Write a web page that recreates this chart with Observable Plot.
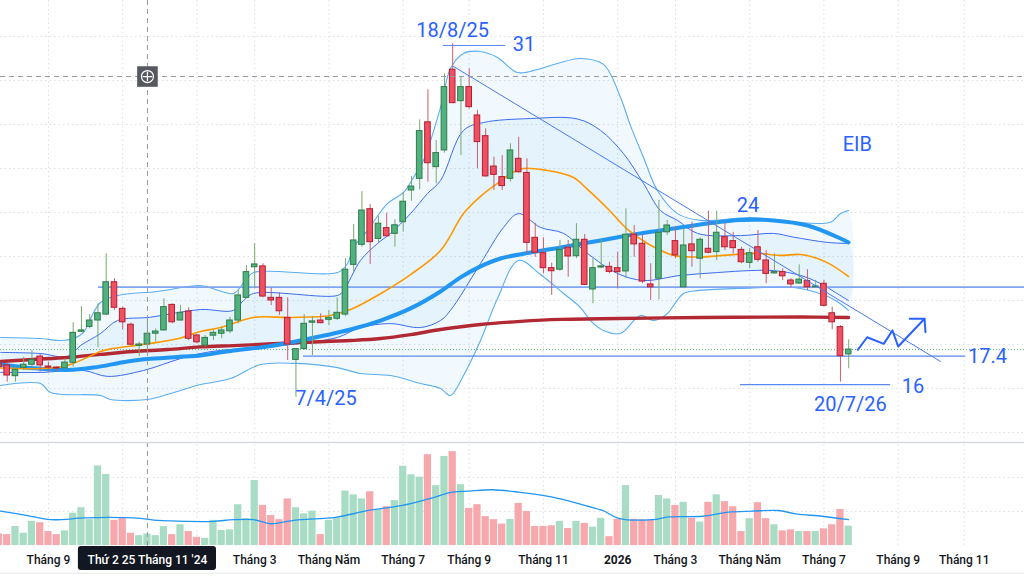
<!DOCTYPE html>
<html>
<head>
<meta charset="utf-8">
<script src="https://cdn.jsdelivr.net/npm/d3@7"></script>
<script src="https://cdn.jsdelivr.net/npm/@observablehq/plot@0.6"></script>
<style>
html,body{margin:0;padding:0;background:#fff;}
#chart{width:1024px;height:576px;overflow:hidden;position:relative;background:#fff;}
#chart svg{display:block;}
</style>
</head>
<body>
<div id="chart"></div>
<script>
// ---------- DATA (weekly bars, index -1 .. 102) ----------
const firstBarMonday = "2024-07-22";             // bar index -1
const skippedWeeks = ["2025-01-27", "2026-02-16"]; // Tet holiday weeks without a bar

const open = [17.12,17.05,16.56,16.94,17.08,17.45,17.00,16.95,16.92,17.17,
 18.58,18.80,19.09,19.36,20.83,19.62,18.90,17.94,18.00,18.49,
 18.64,19.80,19.09,19.50,18.41,17.95,18.40,18.49,18.60,19.09,
 20.12,21.51,21.55,20.12,20.12,19.21,17.30,17.80,18.99,19.09,
 19.12,19.17,19.36,21.62,22.53,24.15,22.80,23.29,23.03,23.56,
 25.00,25.53,28.10,26.06,26.82,30.49,29.06,29.70,28.41,27.47,
 26.09,25.61,25.53,26.44,25.80,22.85,22.15,21.47,21.40,22.40,
 22.01,22.76,20.50,21.50,21.53,21.47,21.32,22.99,22.58,20.73,
 20.99,23.10,22.70,20.60,22.55,21.90,22.35,22.20,22.88,22.70,
 22.30,21.71,22.42,21.82,21.23,21.29,20.91,20.77,20.88,20.60,
 20.76,19.42,18.79,17.55];
const high = [17.23,17.12,16.97,17.42,17.73,17.55,17.20,16.97,17.35,18.99,
 19.73,19.36,19.85,22.12,20.99,19.70,18.97,18.10,19.12,18.71,
 20.08,19.85,19.77,19.67,18.44,18.41,18.64,18.79,19.24,20.45,
 21.59,22.58,21.67,20.56,20.35,20.12,17.82,19.36,19.27,19.40,
 19.55,20.12,21.90,23.45,24.95,24.36,23.82,23.97,23.67,24.90,
 25.64,28.21,29.58,27.27,30.30,31.67,30.15,30.53,28.64,27.80,
 26.51,26.59,27.12,27.42,26.44,23.51,22.85,21.70,22.73,22.73,
 23.49,23.00,21.90,22.76,21.74,22.20,24.17,23.41,23.00,21.67,
 24.55,23.64,23.33,23.26,23.56,22.85,24.06,24.06,23.53,23.10,
 22.42,22.35,23.18,22.27,22.12,21.44,20.99,21.62,21.40,20.91,
 20.91,19.70,18.86,18.21];
const low = [16.82,16.29,16.29,16.82,16.97,16.74,16.74,16.74,16.85,16.97,
 18.56,18.71,17.85,19.32,19.55,18.67,17.95,17.45,17.70,18.10,
 18.60,18.94,19.06,18.18,18.03,17.88,18.18,18.26,18.49,18.94,
 20.08,20.53,20.12,19.77,19.32,17.27,15.60,17.73,17.50,18.94,
 18.86,19.09,19.27,21.29,22.42,21.64,22.60,22.88,22.42,23.10,
 24.51,25.03,25.38,25.30,26.70,28.95,26.59,28.71,25.99,25.61,
 25.00,25.00,25.38,25.79,22.12,21.97,21.21,20.23,21.33,21.06,
 21.90,20.68,19.85,21.44,21.21,20.53,20.99,21.97,20.76,20.00,
 20.03,22.95,21.90,20.58,21.51,20.99,22.12,21.82,22.27,22.12,
 21.67,21.44,21.74,20.76,21.21,20.91,20.58,20.73,20.45,20.58,
 19.70,18.67,16.29,16.90];
const close = [16.97,16.59,16.85,17.08,17.30,17.05,16.95,16.91,17.18,18.53,
 18.64,19.09,19.42,20.83,19.67,19.01,17.99,18.00,18.49,18.59,
 19.70,19.01,19.44,18.26,18.10,18.30,18.53,18.64,19.09,20.23,
 21.29,21.64,20.18,20.00,19.51,18.00,17.79,18.94,19.05,18.97,
 19.21,19.44,21.40,22.73,24.09,22.65,23.49,22.92,23.42,24.49,
 25.18,27.70,26.24,26.70,29.70,28.97,29.70,28.79,27.20,25.64,
 25.71,25.20,26.82,25.83,22.62,22.17,21.47,21.33,22.30,22.00,
 22.76,20.71,21.47,21.55,21.30,21.29,22.99,22.55,20.86,20.60,
 23.08,23.41,22.05,22.50,22.24,22.76,22.17,23.08,22.42,22.38,
 21.74,22.15,21.85,21.21,21.29,21.10,20.73,20.95,20.60,20.64,
 19.76,19.01,17.47,17.77];
const volume = [3.4,3.2,5.6,3.6,7.1,6.7,4.1,3.2,4.3,9.5,
 11.1,7.6,23.4,20.9,7.4,8.1,3.6,2.9,3.4,2.9,
 5.6,3.2,6.1,4.1,2.4,2.1,7.4,4.4,4.6,12.0,
 7.9,19.1,11.8,8.8,7.6,13.7,11.1,9.3,10.1,3.2,
 7.4,8.0,16.0,14.9,13.7,15.8,10.5,11.4,13.2,23.3,
 20.8,20.1,26.7,17.6,26.2,27.6,17.9,10.9,12.0,8.5,
 7.6,6.3,7.7,12.4,10.0,5.6,5.6,5.8,7.1,5.0,
 7.1,6.5,5.4,8.0,2.6,7.7,17.6,7.7,7.6,7.6,
 14.7,13.7,11.8,12.7,8.0,6.9,12.7,14.9,12.9,11.4,
 4.1,7.9,12.6,7.9,6.1,4.3,4.6,4.1,4.1,4.1,
 4.9,6.1,10.6,5.7];

// Indicators (bar position -> value)
const ma20At = [-0.81,4.04,7.31,11.31,12.52,14.58,17.37,20.64,23.43,25.85,29.86,34.34,39.19,41.61,44.88,48.89,52.52,55.31,57.37,59.43,62.22,65.49,68.64,70.34,72.77,75.19,77.61,80.77,84.04,86.83,90.95,93.73,96.16,98.22,99.8,101.98];
const ma20 = [16.93,16.91,17.05,17.68,17.80,17.91,18.05,18.26,18.59,18.77,19.23,19.23,19.32,19.59,20.23,21.18,22.27,23.95,24.73,25.32,25.98,25.91,25.59,25.05,24.18,23.23,22.59,22.05,21.98,22.05,22.14,22.05,22.09,21.91,21.64,21.09];
const ma50At = [-0.81,3.19,7.31,10.46,14.58,17.37,21.37,23.43,27.43,31.55,35.55,41.61,45.25,48.89,52.52,54.95,57.37,59.79,63.43,67.07,71.92,76.77,80.77,84.89,88.89,92.89,97.01,101.01,101.98];
const ma50 = [17.09,16.92,16.84,16.95,17.23,17.35,17.45,17.5,17.73,17.91,18.18,18.68,19.09,19.64,20.41,21.05,21.55,21.91,22.18,22.41,22.73,23.05,23.27,23.5,23.66,23.64,23.41,22.82,22.64];
const ma200At = [-0.81,3.19,7.31,11.31,15.31,19.43,23.43,27.43,31.55,35.55,41.61,45.25,48.89,52.52,57.37,62.22,67.07,71.92,84.04,96.16,101.98];
const ma200 = [17.23,17.32,17.41,17.55,17.68,17.77,17.89,17.95,18.02,18.09,18.18,18.27,18.45,18.68,18.91,19.05,19.14,19.17,19.23,19.25,19.23];
const outerUpAt = [-0.81,4.04,6.46,8.04,9.25,10.1,11.31,13.37,18.22,23.43,25.25,27.43,28.88,29.86,40.04,41.25,41.98,43.67,46.1,48.04,49.25,50.45,52.52,53.73,55.31,57.37,59.43,61.86,64.28,66.7,69.49,72.28,74.34,75.55,77.13,78.82,81.25,84.04,90.1,95.31,99.8,101.01,101.98];
const outerUp = [18.32,18.27,18.18,18.27,18.55,19.18,19.91,20.23,20.41,20.68,20.5,20.32,20.91,21.27,21.27,21.68,22.41,23.18,24.41,24.91,25.59,26.36,28.77,30.55,31.23,31.32,31.05,30.36,30.5,30.77,31.0,30.73,29.23,27.95,26.5,25.0,23.95,23.64,23.77,23.56,23.56,23.95,24.09];
const innerUpAt = [-0.81,4.04,7.31,8.88,11.31,13.37,17.37,23.43,27.43,28.64,29.86,40.04,40.77,42.82,44.88,46.46,48.89,50.94,52.52,55.31,57.74,63.43,69.13,71.92,74.7,77.13,79.19,81.25,83.67,88.89,92.89,95.31,99.43,101.98];
const innerUp = [17.64,17.59,17.45,17.95,18.5,19.09,19.24,19.59,19.55,20.0,20.32,20.23,20.45,21.82,22.59,23.05,23.95,24.86,25.45,27.73,28.09,28.27,28.25,27.73,26.68,25.32,24.09,23.64,23.05,22.95,23.05,22.88,22.64,22.59];
const innerLowAt = [-0.81,4.04,9.25,12.16,16.52,21.0,23.43,25.85,30.7,35.55,40.04,42.82,46.46,50.1,52.52,53.73,57.37,60.16,61.98,64.64,67.43,70.34,73.98,77.13,81.61,86.1,90.1,92.89,96.16,98.58,100.4,101.98];
const innerLow = [16.73,16.73,16.82,16.55,16.82,17.36,17.59,17.73,17.86,18.05,18.32,18.77,18.95,18.77,19.09,19.55,21.68,23.32,23.95,23.32,23.05,22.14,21.23,20.91,21.14,21.27,21.36,21.36,21.14,20.77,20.36,20.0];
const outerLowAt = [-0.81,4.04,5.25,11.31,12.52,17.0,19.79,23.43,27.07,30.7,34.95,40.04,42.82,46.46,50.1,52.52,53.73,55.31,57.37,59.43,61.98,64.64,67.43,69.49,70.7,72.28,74.34,76.77,78.34,80.04,80.77,81.98,83.67,88.89,95.31,98.1,100.4,101.98];
const outerLow = [16.14,16.23,15.82,15.68,15.5,15.5,15.77,16.18,16.45,17.09,17.14,16.95,16.68,16.59,16.23,16.0,15.68,16.59,18.18,20.09,21.82,21.18,20.32,19.68,19.09,18.64,18.5,19.32,19.09,19.41,19.77,20.32,20.45,20.55,20.59,20.36,20.0,19.55];
const volMaAt = [-0.81,2.46,5.25,9.25,12.16,16.16,18.22,21.85,25.0,27.43,29.85,31.92,33.49,35.55,39.79,43.79,47.91,51.07,53.98,55.92,58.82,61.98,66.1,69.25,72.16,74.1,78.22,80.16,84.28,87.43,90.34,93.49,95.55,98.82,101.98];
const volMa = [10.1,8.8,7.6,8.1,8.3,8.0,7.4,7.1,7.1,7.6,7.6,6.4,6.9,7.6,8.3,10.3,11.8,13.7,15.7,16.0,16.4,15.7,14.2,12.3,10.3,8.0,7.6,8.4,8.6,9.8,10.1,10.3,9.3,8.6,7.6];

// Drawings
const levelPrice = [20.61, 17.47, 16.18, 31.59];
const levelFrom  = [11.07, 35.92, 88.88, 52.88];
const levelTo    = [123.31, 116.2, 107.07, 60.4];
const trendAt = [54.1, 113.13];
const trendV  = [30.64, 17.23];
const zigAt = [103.1, 104.24, 106.25, 107.3, 108.0, 111.19];
const zigV  = [17.76, 18.33, 18.03, 18.64, 17.91, 19.17];
const headAt = [109.4, 111.19, 111.31];
const headV  = [19.17, 19.17, 18.56];
const labelText = ["18/8/25", "31", "EIB", "24", "17.4", "16", "20/7/26", "7/4/25"];
const labelAt   = [53.98, 62.64, 103.05, 89.8, 118.83, 109.8, 102.2, 38.64];
const labelV    = [32.27, 31.64, 27.09, 24.32, 17.45, 16.09, 15.27, 15.55];
const priceGrid = [14, 16, 18, 20, 22, 24, 26, 28, 30, 32];
const volumeGrid = [10, 20];
const crossDate = "2024-11-25";
const crossPrice = 30.18;
const crossLabel = "Thứ 2 25 Tháng 11 '24";
const crossLabelHalfBars = 8.37;   // half width of the crosshair date box, in bars

// ---------- BUILD ----------
const dates = [];
{
  let t = Date.parse(firstBarMonday + "T00:00:00Z");
  while (dates.length < 135) {
    const iso = new Date(t).toISOString().slice(0, 10);
    if (!skippedWeeks.includes(iso)) dates.push(new Date(t));
    t += 7 * 864e5;
  }
}
const idxOf = (j) => j - 1;
const bars = open.map((o, j) => ({
  i: idxOf(j), o, h: high[j], l: low[j], c: close[j], v: volume[j], up: close[j] >= o
}));
const xDomain = [-0.812, 123.31];
const ticks = [];
for (let j = 1; j < dates.length; j++) {
  const m = dates[j].getUTCMonth(), pm = dates[j - 1].getUTCMonth();
  if (m !== pm && m % 2 === 0 && idxOf(j) <= xDomain[1]) {
    ticks.push({
      i: idxOf(j),
      label: m === 0 ? String(dates[j].getUTCFullYear()) : (m === 4 ? "Tháng Năm" : "Tháng " + (m + 1)),
      year: m === 0
    });
  }
}
const crossIndex = idxOf(dates.findIndex(d => d.toISOString().slice(0, 10) === crossDate));
// tick labels hidden behind the crosshair date box (as in TradingView)
const visibleTicks = ticks.filter(t => Math.abs(t.i - crossIndex) > crossLabelHalfBars + 2);
const pts = (at, vals) => at.map((a, k) => ({i: a, v: vals[k]}));
const poly = (aAt, a, bAt, b) => pts(aAt, a).concat(pts(bAt, b).reverse());

const GRID = "#dcdfe6";
const upFill = "#52b27f", upStroke = "#2f7c48", upWick = "#78a86c";
const dnFill = "#ef5062", dnStroke = "#b51e30", dnWick = "#c7606c";
const BLUE_TXT = "#2962ff";

const price = Plot.plot({
  width: 1024, height: 441, margin: 0,
  x: {domain: xDomain, axis: null},
  y: {domain: [13.591, 33.636], axis: null},
  style: {fontFamily: "Roboto, 'Noto Sans', sans-serif", background: "white"},
  marks: [
    Plot.ruleY(priceGrid, {stroke: GRID, strokeDasharray: "1.5,3"}),
    Plot.ruleX(ticks, {x: "i", stroke: GRID, strokeDasharray: "1.5,3"}),
    Plot.line(poly(outerUpAt, outerUp, outerLowAt, outerLow), {x: "i", y: "v", fill: "rgba(33,150,243,0.06)", stroke: "none", curve: "catmull-rom"}),
    Plot.line(poly(innerUpAt, innerUp, innerLowAt, innerLow), {x: "i", y: "v", fill: "rgba(33,150,243,0.06)", stroke: "none", curve: "catmull-rom"}),
    Plot.line(pts(outerUpAt, outerUp), {x: "i", y: "v", stroke: "#5aaef2", strokeWidth: 1.1, curve: "catmull-rom"}),
    Plot.line(pts(outerLowAt, outerLow), {x: "i", y: "v", stroke: "#5aaef2", strokeWidth: 1.1, curve: "catmull-rom"}),
    Plot.line(pts(innerUpAt, innerUp), {x: "i", y: "v", stroke: "#3b6cf0", strokeWidth: 1, curve: "catmull-rom"}),
    Plot.line(pts(innerLowAt, innerLow), {x: "i", y: "v", stroke: "#3b6cf0", strokeWidth: 1, curve: "catmull-rom"}),
    Plot.ruleY(levelPrice.map((p, k) => ({p, a: levelFrom[k], b: levelTo[k], k})), {
      y: "p", x1: "a", x2: "b",
      stroke: d => d.k === 0 ? "#7ea4f6" : "#5c88f1",
      strokeWidth: d => d.k === 0 ? 1.6 : 1.2
    }),
    Plot.ruleY([close[close.length - 1]], {stroke: "#43a047", strokeDasharray: "1,2", strokeOpacity: 0.8}),
    Plot.line(pts(ma200At, ma200), {x: "i", y: "v", stroke: "#b22833", strokeWidth: 3.4, curve: "catmull-rom"}),
    Plot.line(pts(ma50At, ma50), {x: "i", y: "v", stroke: "#2196f3", strokeWidth: 4, curve: "catmull-rom"}),
    Plot.line(pts(ma20At, ma20), {x: "i", y: "v", stroke: "#ff9800", strokeWidth: 1.6, curve: "catmull-rom"}),
    Plot.ruleX(bars, {x: "i", y1: "l", y2: "h", stroke: d => d.up ? upWick : dnWick, strokeWidth: 1}),
    Plot.rect(bars, {
      x1: d => d.i - 0.34, x2: d => d.i + 0.34,
      y1: d => Math.min(d.o, d.c), y2: d => Math.max(d.o, d.c),
      fill: d => d.up ? upFill : dnFill, stroke: d => d.up ? upStroke : dnStroke, strokeWidth: 1
    }),
    Plot.line(pts(trendAt, trendV), {x: "i", y: "v", stroke: "#4a78f0", strokeWidth: 1}),
    Plot.line(pts(zigAt, zigV), {x: "i", y: "v", stroke: "#2962ff", strokeWidth: 2}),
    Plot.line(pts(headAt, headV), {x: "i", y: "v", stroke: "#2962ff", strokeWidth: 2}),
    Plot.text(labelText.map((t, k) => ({t, i: labelAt[k], v: labelV[k]})), {
      x: "i", y: "v", text: "t", fill: BLUE_TXT, fontSize: 20
    }),
    Plot.ruleY([crossPrice], {stroke: "#9598a1", strokeDasharray: "5,4"}),
    Plot.ruleX([crossIndex], {stroke: "#9598a1", strokeDasharray: "5,4"}),
    Plot.dot([{i: crossIndex, v: crossPrice}], {x: "i", y: "v", symbol: "square", r: 11.6, fill: "#55585f", stroke: "none"}),
    Plot.dot([{i: crossIndex, v: crossPrice}], {x: "i", y: "v", r: 6, fill: "none", stroke: "white", strokeWidth: 1.2}),
    Plot.dot([{i: crossIndex, v: crossPrice}], {x: "i", y: "v", symbol: "plus", r: 3.2, stroke: "white", strokeWidth: 1.2})
  ]
});

const volTop = 30.588;
const vol = Plot.plot({
  width: 1024, height: 135, margin: 0,
  x: {domain: xDomain, axis: null},
  y: {domain: [-9.118, volTop], axis: null},
  style: {fontFamily: "Roboto, 'Noto Sans', sans-serif", background: "white"},
  marks: [
    Plot.ruleY(volumeGrid, {stroke: GRID, strokeDasharray: "1.5,3"}),
    Plot.ruleX(ticks, {x: "i", y1: 0, y2: volTop, stroke: GRID, strokeDasharray: "1.5,3"}),
    Plot.rectY(bars, {x1: d => d.i - 0.44, x2: d => d.i + 0.44, y: "v", fill: d => d.up ? "#a9dcc4" : "#f6a8ad"}),
    Plot.line(pts(volMaAt, volMa), {x: "i", y: "v", stroke: "#2196f3", strokeWidth: 1.3, curve: "catmull-rom"}),
    Plot.ruleX([crossIndex], {y1: -0.3, y2: volTop, stroke: "#9598a1", strokeDasharray: "5,4"}),
    Plot.ruleY([volTop - 0.3], {stroke: "#d6d9e0", strokeWidth: 1.6}),
    Plot.ruleY([-8.15], {stroke: "#e6e8ee", strokeWidth: 1}),
    Plot.text(visibleTicks.filter(t => !t.year), {x: "i", y: -4.4, text: "label", fill: "#131722", fontSize: 12, fontWeight: 500}),
    Plot.text(visibleTicks.filter(t => t.year), {x: "i", y: -4.4, text: "label", fill: "#131722", fontSize: 12, fontWeight: 700}),
    Plot.rect([{i: crossIndex}], {x1: d => d.i - crossLabelHalfBars, x2: d => d.i + crossLabelHalfBars, y1: -0.3, y2: -7.35, fill: "#131722", rx: 3}),
    Plot.text([{i: crossIndex, t: crossLabel}], {x: "i", y: -4.4, text: "t", fill: "white", fontSize: 12, fontWeight: 500})
  ]
});

const root = document.getElementById("chart");
root.appendChild(price);
root.appendChild(vol);
</script>
</body>
</html>
